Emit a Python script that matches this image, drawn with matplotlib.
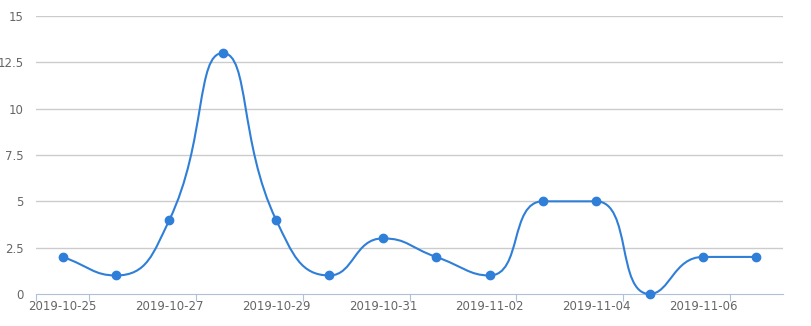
import numpy as np
import matplotlib
matplotlib.use('Agg')
import matplotlib.pyplot as plt
from matplotlib.path import Path
from matplotlib.patches import PathPatch

dates = ['2019-10-25', '2019-10-26', '2019-10-27', '2019-10-28', '2019-10-29',
         '2019-10-30', '2019-10-31', '2019-11-01', '2019-11-02', '2019-11-03',
         '2019-11-04', '2019-11-05', '2019-11-06', '2019-11-07']
values = [2, 1, 4, 13, 4, 1, 3, 2, 1, 5, 5, 0, 2, 2]
y_ticks = [0, 2.5, 5, 7.5, 10, 12.5, 15]

line_color = '#2f7ed8'
grid_color = '#cccccc'
text_color = '#666666'


def clamp(v, a, b):
    return min(max(v, min(a, b)), max(a, b))


# echarts-like smoothing, done in pixel space
def smooth_path(pts, smooth=0.5):
    n = len(pts)
    verts = [pts[0]]
    codes = [Path.MOVETO]
    x0, y0 = pts[0]
    x1, y1 = pts[1]
    cp0 = (x0 + (x1 - x0) * smooth, y0 + (y1 - y0) * smooth)
    for i in range(1, n):
        x, y = pts[i]
        px, py = pts[i - 1]
        if i == n - 1:
            cp1 = (x, y)
            ncp = (x, y)
        else:
            nx, ny = pts[i + 1]
            vx, vy = nx - px, ny - py
            l0 = np.hypot(x - px, y - py)
            l1 = np.hypot(nx - x, ny - y)
            r = l1 / (l0 + l1)
            ncx = clamp(x + vx * smooth * r, x, nx)
            ncy = clamp(y + vy * smooth * r, y, ny)
            vx, vy = ncx - x, ncy - y
            cx1 = clamp(x - vx * l0 / l1, px, x)
            cy1 = clamp(y - vy * l0 / l1, py, y)
            vx, vy = x - cx1, y - cy1
            ncp = (x + vx * l1 / l0, y + vy * l1 / l0)
            cp1 = (cx1, cy1)
        verts += [cp0, cp1, (x, y)]
        codes += [Path.CURVE4] * 3
        cp0 = ncp
    return verts, codes


fig = plt.figure(figsize=(8.11, 3.26), dpi=100)
ax = fig.add_axes([36 / 811, 32 / 326, 747 / 811, 278 / 326])

xs = np.arange(len(dates))
ax.set_xlim(-0.5, len(dates) - 0.5)
ax.set_ylim(0, 15)

# grid
for t in y_ticks[1:]:
    ax.axhline(t, color=grid_color, lw=1, zorder=0)

pix = ax.transData.transform(np.column_stack([xs, values]))
verts, codes = smooth_path([tuple(p) for p in pix])
verts = ax.transData.inverted().transform(np.array(verts))
ax.add_patch(PathPatch(Path(verts, codes), fill=False, edgecolor=line_color,
                       lw=1.5, zorder=3, clip_on=False))
ax.plot(xs, values, 'o', color=line_color, ms=6, zorder=4, clip_on=False)

for s in ['top', 'right', 'left']:
    ax.spines[s].set_visible(False)
ax.spines['bottom'].set_color('#b0c0d8')
ax.spines['bottom'].set_zorder(1)

ax.set_yticks(y_ticks)
ax.set_yticklabels(['{:g}'.format(t) for t in y_ticks])
ax.tick_params(axis='y', length=0, pad=9, labelsize=8.5, labelcolor=text_color)

# boundary ticks, labels on every other category
ax.set_xticks([-0.5] + [i + 0.5 for i in range(0, len(dates), 2)])
ax.set_xticklabels([])
ax.set_xticks(xs[::2], minor=True)
ax.set_xticklabels([dates[i] for i in xs[::2]], minor=True)
ax.tick_params(axis='x', which='major', length=5, color='#b0c0d8')
ax.tick_params(axis='x', which='minor', length=0, pad=4, labelsize=8.5,
               labelcolor=text_color)

fig.savefig('out.png', dpi=100)
